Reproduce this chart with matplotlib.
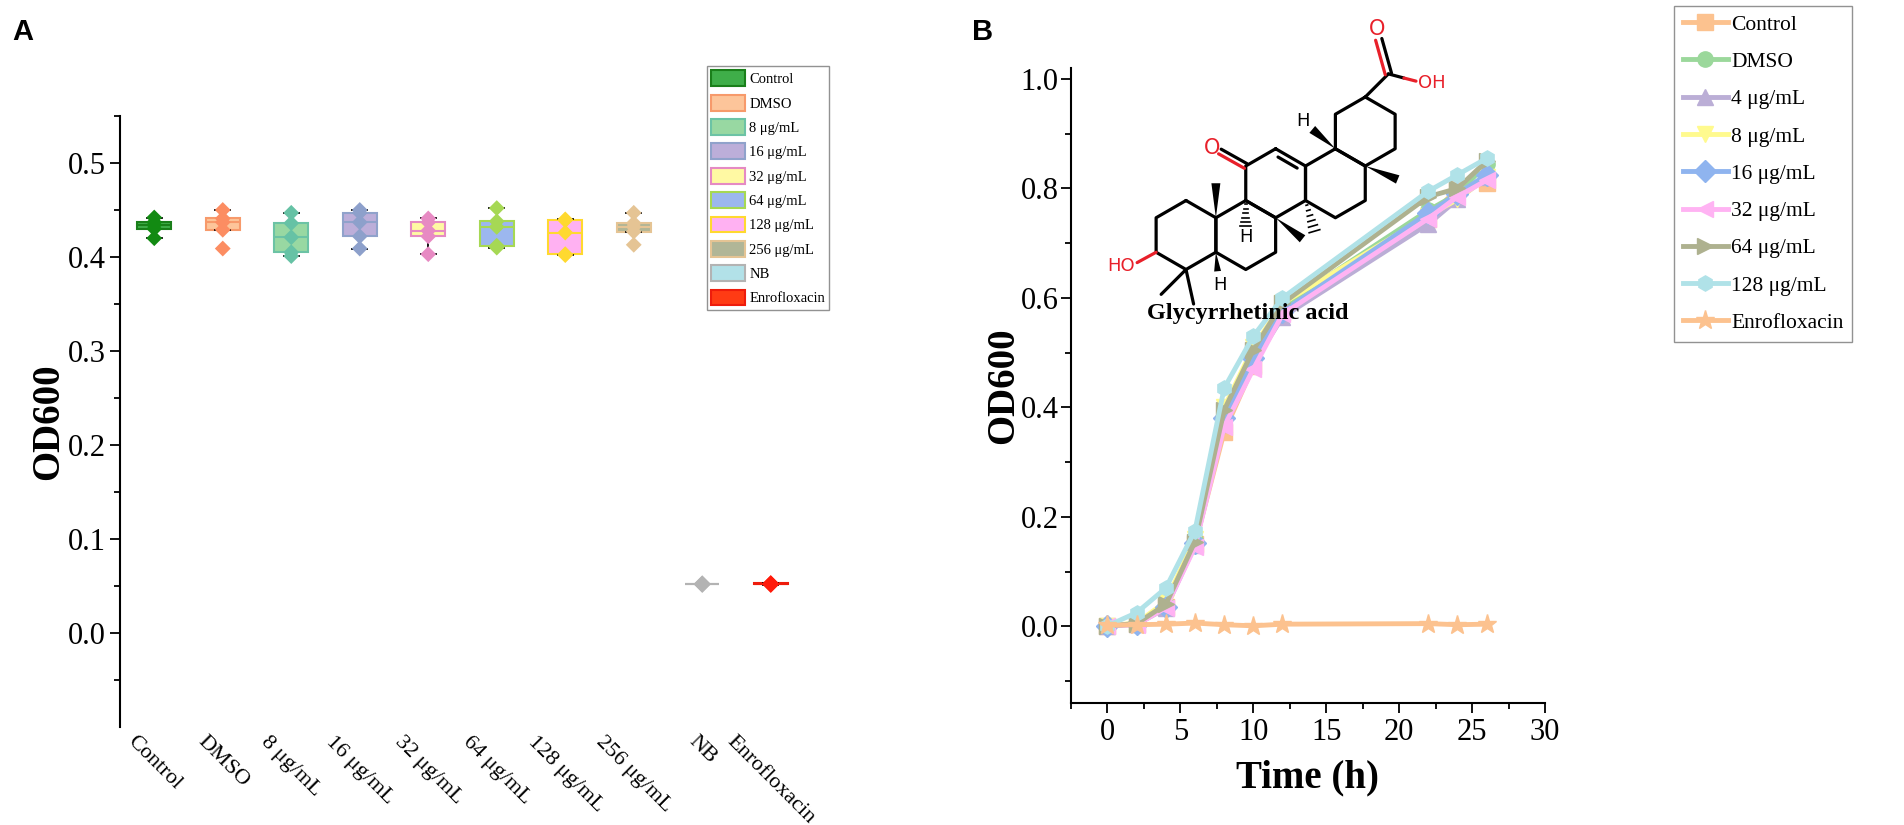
import matplotlib
matplotlib.use("Agg")
import matplotlib.pyplot as plt
from matplotlib.patches import Patch, Polygon
import numpy as np

plt.rcParams['font.family'] = ['Liberation Serif', 'DejaVu Serif']

W, H = 1904, 825

# ---------------- panel A data ----------------
groups = ['Control', 'DMSO', '8 μg/mL', '16 μg/mL', '32 μg/mL', '64 μg/mL',
          '128 μg/mL', '256 μg/mL', 'NB', 'Enrofloxacin']
control = [0.442, 0.437, 0.434, 0.430, 0.420]
dmso = [0.450, 0.441, 0.437, 0.429, 0.409]
c8 = [0.447, 0.436, 0.421, 0.405, 0.401]
c16 = [0.450, 0.447, 0.437, 0.422, 0.409]
c32 = [0.441, 0.437, 0.428, 0.422, 0.403]
c64 = [0.452, 0.438, 0.432, 0.412, 0.410]
c128 = [0.440, 0.439, 0.426, 0.403, 0.402]
c256 = [0.447, 0.436, 0.432, 0.427, 0.413]
nb = [0.053, 0.052, 0.052, 0.051, 0.052]
enro = [0.053, 0.052, 0.052, 0.051, 0.053]
box_data = [control, dmso, c8, c16, c32, c64, c128, c256, nb, enro]

box_fill = ['#3fae49', '#fdc59a', '#98d8a2', '#bcaed9', '#fff9a3', '#9cb7ef',
            '#ffb1f2', '#b1b697', '#b2e1e8', '#ff3b14']
box_edge = ['#1a7f1a', '#f79a6b', '#6cc3a5', '#90a2cb', '#e58ac3', '#a6d854',
            '#ffd92f', '#e5c494', '#b3b3b3', '#ee1c0c']
point_col = ['#128a12', '#fc8d62', '#66c2a5', '#8da0cb', '#e78ac3', '#a6d854',
             '#ffd92f', '#e5c494', '#b3b3b3', '#ff1a0a']

# ---------------- panel B data ----------------
time_h = [0, 2, 4, 6, 8, 10, 12, 22, 24, 26]
b_labels = ['Control', 'DMSO', '4 μg/mL', '8 μg/mL', '16 μg/mL', '32 μg/mL',
            '64 μg/mL', '128 μg/mL', 'Enrofloxacin']
od_control = [0.001, 0.004, 0.035, 0.150, 0.355, 0.475, 0.575, 0.745, 0.800, 0.810]
od_dmso = [0.001, 0.005, 0.040, 0.158, 0.390, 0.500, 0.585, 0.760, 0.790, 0.845]
od_4 = [0.001, 0.004, 0.033, 0.148, 0.370, 0.480, 0.565, 0.735, 0.780, 0.820]
od_8 = [0.001, 0.006, 0.045, 0.160, 0.400, 0.510, 0.590, 0.750, 0.780, 0.820]
od_16 = [0.001, 0.004, 0.036, 0.152, 0.380, 0.490, 0.575, 0.755, 0.790, 0.825]
od_32 = [0.001, 0.003, 0.034, 0.145, 0.365, 0.470, 0.570, 0.745, 0.785, 0.815]
od_64 = [0.001, 0.005, 0.040, 0.155, 0.395, 0.505, 0.590, 0.785, 0.800, 0.850]
od_128 = [0.001, 0.025, 0.070, 0.175, 0.435, 0.530, 0.600, 0.795, 0.825, 0.855]
od_enro = [0.002, 0.003, 0.004, 0.006, 0.003, 0.001, 0.004, 0.005, 0.003, 0.004]
b_series = [od_control, od_dmso, od_4, od_8, od_16, od_32, od_64, od_128, od_enro]
b_colors = ['#fcc28f', '#9bd89b', '#bbaed6', '#fffa8e', '#8fb4ef', '#ffb3f3',
            '#aeb18f', '#b0e2e8', '#fcc28f']
b_markers = ['s', 'o', '^', 'v', 'D', '<', '>', 'h', '*']


def frac(left, top, right, bottom):
    return [left / W, 1 - bottom / H, (right - left) / W, (bottom - top) / H]


fig = plt.figure(figsize=(W / 100, H / 100), dpi=100)

# ================= Panel A =================
axA = fig.add_axes(frac(120, 116, 805, 727))
pos = np.arange(len(groups))
bp = axA.boxplot(box_data, positions=pos, widths=0.5, patch_artist=True,
                 showfliers=False, whis=1.5,
                 whiskerprops=dict(color='black', lw=1.3),
                 capprops=dict(color='black', lw=1.3), capwidths=0.22)
for i, b in enumerate(bp['boxes']):
    b.set_facecolor(box_fill[i])
    b.set_edgecolor(box_edge[i])
    b.set_linewidth(1.5)
    bp['medians'][i].set_color(box_edge[i])
    bp['medians'][i].set_linewidth(1.5)
for i, vals in enumerate(box_data):
    axA.scatter(np.full(len(vals), pos[i]), vals, marker='D', s=65,
                color=point_col[i], edgecolors='none', zorder=3)

axA.set_xlim(-0.5, 9.5)
axA.set_ylim(-0.1, 0.55)
axA.set_yticks([0.0, 0.1, 0.2, 0.3, 0.4, 0.5])
axA.set_yticks(np.arange(-0.05, 0.55, 0.1), minor=True)
axA.set_xticks(pos)
axA.set_xticklabels(groups, rotation=-45, ha='center', fontsize=16)
axA.tick_params(axis='x', length=0, pad=4)
axA.tick_params(axis='y', which='major', direction='out', length=7, width=1.3,
                labelsize=22)
axA.tick_params(axis='y', which='minor', direction='out', length=4, width=1.3)
for s in ['top', 'right', 'bottom']:
    axA.spines[s].set_visible(False)
axA.spines['left'].set_linewidth(1.5)
axA.set_ylabel('OD600', fontsize=28, fontweight='bold', labelpad=0)

handles = [Patch(facecolor=box_fill[i], edgecolor=box_edge[i], lw=1.5)
           for i in range(len(groups))]
legA = axA.legend(handles, groups, loc='upper left',
                  bbox_to_anchor=(707 / W, 1 - 66 / H),
                  bbox_transform=fig.transFigure, fontsize=10.5,
                  frameon=True, fancybox=False, edgecolor='#777777',
                  handlelength=2.3, handleheight=1.3, labelspacing=0.58,
                  borderpad=0.3, handletextpad=0.3, borderaxespad=0)
legA.get_frame().set_linewidth(1.0)

# ================= Panel B =================
axB = fig.add_axes(frac(1071, 68, 1545, 703))
for i, ys in enumerate(b_series):
    axB.plot(time_h, ys, color=b_colors[i], marker=b_markers[i], lw=3.5,
             markersize=11 if b_markers[i] != '*' else 14,
             markeredgecolor=b_colors[i], label=b_labels[i])
axB.set_xlim(-2.5, 30)
axB.set_ylim(-0.14, 1.02)
axB.set_xticks([0, 5, 10, 15, 20, 25, 30])
axB.set_xticks(np.arange(-2.5, 30, 5), minor=True)
axB.set_yticks([0.0, 0.2, 0.4, 0.6, 0.8, 1.0])
axB.set_yticks(np.arange(-0.1, 1.0, 0.2), minor=True)
axB.tick_params(which='major', direction='out', length=7, width=1.3,
                labelsize=22)
axB.tick_params(axis='y', which='major', pad=2)
axB.tick_params(which='minor', direction='out', length=4, width=1.3)
for s in ['top', 'right']:
    axB.spines[s].set_visible(False)
axB.spines['left'].set_linewidth(1.5)
axB.spines['bottom'].set_linewidth(1.5)
axB.set_xlabel('Time (h)', fontsize=28, fontweight='bold', labelpad=9)
axB.set_ylabel('OD600', fontsize=28, fontweight='bold', labelpad=-1)

legB = axB.legend(loc='upper left', bbox_to_anchor=(1674 / W, 1 - 6 / H),
                  bbox_transform=fig.transFigure, fontsize=15.5,
                  frameon=True, fancybox=False, edgecolor='#777777',
                  handlelength=2.1, labelspacing=0.8, borderpad=0.4,
                  handletextpad=0.15, borderaxespad=0)
legB.get_frame().set_linewidth(1.0)

# ========== chemical structure (glycyrrhetinic acid) ==========
u = 34.5  # px per bond length
ox, oy = 1186, 235  # ring A centre in pixels
x0, x1, y0, y1 = -2.6, 8.0, -3.0, 6.5
axS = fig.add_axes(frac(ox + x0 * u, oy - y1 * u, ox + x1 * u, oy - y0 * u))
axS.set_xlim(x0, x1)
axS.set_ylim(y0, y1)
axS.axis('off')
axS.patch.set_alpha(0)

r3 = np.sqrt(3) / 2
red = '#e8202a'
lab = dict(family='DejaVu Sans', ha='center', va='center')


def hexagon(cx, cy):
    ang = np.deg2rad([90, 30, -30, -90, -150, 150, 90])
    return cx + np.cos(ang), cy + np.sin(ang)


centres = [(0, 0), (2 * r3, 0), (3 * r3, 1.5), (5 * r3, 1.5), (6 * r3, 3.0)]
for cx, cy in centres:
    hx, hy = hexagon(cx, cy)
    axS.plot(hx, hy, color='black', lw=2.3, solid_capstyle='round')


def bond(p, q, color='black'):
    axS.plot([p[0], q[0]], [p[1], q[1]], color=color, lw=2.3,
             solid_capstyle='round')


def wedge(p, q, w=0.13):
    d = np.array(q) - np.array(p)
    n = np.array([-d[1], d[0]]) / np.hypot(*d) * w
    axS.add_patch(Polygon([p, np.array(q) + n, np.array(q) - n],
                          closed=True, color='black', lw=0))


def hashed(p, q, w=0.16, k=6):
    p = np.array(p, float)
    q = np.array(q, float)
    d = q - p
    n = np.array([-d[1], d[0]]) / np.hypot(*d)
    for t in np.linspace(0.15, 1, k):
        c = p + d * t
        hw = w * t
        axS.plot([c[0] - n[0] * hw, c[0] + n[0] * hw],
                 [c[1] - n[1] * hw, c[1] + n[1] * hw], color='black', lw=1.2)


# C=C double bond inside ring C
cC = np.array([3 * r3, 1.5])
a, b = np.array([3 * r3, 2.5]), np.array([4 * r3, 2.0])
a2, b2 = a + (cC - a) * 0.2, b + (cC - b) * 0.2
a2, b2 = a2 + (b2 - a2) * 0.1, b2 - (b2 - a2) * 0.1
bond(a2, b2)
# ketone
k0 = np.array([2 * r3, 2.0])
kd = np.array([-0.75, 0.42])
kn = np.array([0.42, 0.75]) * 0.09
bond(k0 + kn, k0 + kd + kn)
bond(k0 - kn, k0 + kd - kn, color=red)
axS.text(k0[0] + kd[0] - 0.22, k0[1] + kd[1] + 0.1, 'O', color=red,
         fontsize=15, **lab)
# HO on ring A
p = np.array([-r3, -0.5])
bond(p, p + [-0.55, -0.3], color=red)
axS.text(p[0] - 0.62, p[1] - 0.4, 'HO', color=red, fontsize=13,
         family='DejaVu Sans', ha='right', va='center')
# gem-dimethyl
p = np.array([0, -1.0])
bond(p, p + [-0.72, -0.72])
bond(p, p + [0.22, -1.0])
# H at A/B junction
p = np.array([r3, -0.5])
wedge(p, p + [0.05, -0.55], w=0.1)
axS.text(p[0] + 0.12, p[1] - 0.95, 'H', fontsize=13, **lab)
# angular methyl A/B
p = np.array([r3, 0.5])
wedge(p, p + [0, 1.0])
# hashed H on ring B
p = np.array([2 * r3, 1.0])
hashed(p, p + [0, -0.75])
axS.text(p[0], p[1] - 1.05, 'H', fontsize=13, **lab)
# methyl B/C
p = np.array([3 * r3, 0.5])
wedge(p, p + [0.78, -0.61])
# hashed methyl C/D
p = np.array([4 * r3, 1.0])
hashed(p, p + [0.26, -0.89])
# H wedge on ring D
p = np.array([5 * r3, 2.5])
wedge(p, p + [-0.67, 0.56])
axS.text(p[0] - 0.95, p[1] + 0.8, 'H', fontsize=13, **lab)
# methyl D/E
p = np.array([6 * r3, 2.0])
wedge(p, p + [0.94, -0.39])
# COOH
p = np.array([6 * r3, 4.0])
c = p + [0.67, 0.67]
bond(p, c)
on = np.array([1.0, 0.28]) * 0.09
bond(c + on, c + [-0.28, 1.0] + on)
bond(c - on, c + [-0.28, 1.0] - on, color=red)
axS.text(c[0] - 0.33, c[1] + 1.3, 'O', color=red, fontsize=15, **lab)
bond(c, c + [0.45, -0.12])
bond(c + [0.45, -0.12], c + [0.8, -0.21], color=red)
axS.text(c[0] + 0.85, c[1] - 0.25, 'OH', color=red, fontsize=13,
         family='DejaVu Sans', ha='left', va='center')
axS.text(1.8, -2.28, 'Glycyrrhetinic acid', fontsize=17.5, fontweight='bold',
         ha='center', va='center')

# panel letters
fig.text(12 / W, 1 - 32 / H, 'A', fontsize=21, fontweight='bold',
         family='Liberation Sans', va='center')
fig.text(972 / W, 1 - 32 / H, 'B', fontsize=21, fontweight='bold',
         family='Liberation Sans', va='center')

fig.savefig('out.png', dpi=100)
